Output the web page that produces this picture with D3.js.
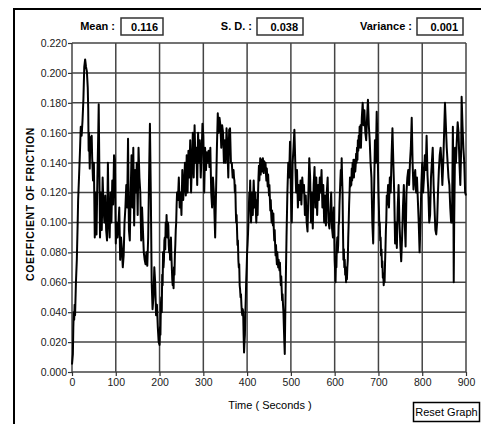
<!DOCTYPE html>
<html lang="en">
<head>
    <meta charset="UTF-8">
    <title>Coefficient of Friction vs Time</title>
    <script src="https://d3js.org/d3.v7.min.js"></script>
    <style>
        body { margin: 0; background: #fff; }
        svg { display: block; }
        text { font-family: "Liberation Sans", Arial, sans-serif; }
    </style>
</head>
<body>
    <div id="chart"></div>

    <script>
        // readings: time (s) and coefficient of friction, one line per stretch of the run
        const time = [
            0,2,3,4,5,6,7,9,11,13,14,16,18,20,22,24,26,28,30,32,34,36,37,38,39,40.5,42,44,45,46,48,50,52,54,56,58,60,61,62,64,66,68,70,72,74,76,78,80,82,84,86,88,90,92,94,96,98,100,102,104,106,108,
            110,112,114,116,118,120,122,124,126,128,130,132,134,136,138,140,142,144,146,148,150,152,154,156,158,160,162,164,166,168,170,172,174,176,178,180,182,184,186,188,190,192,194,196,198,
            200,201,202,203,204,205,206,207,208,209,210,211,212,213,214,215,216,217,218,219,220,221,222,223,224,225,226,227,228,229,230,231,232,233,234,235,236,237,238,239,240,
            242,244,246,248,250,252,254,256,258,260,262,264,266,268,270,272,274,276,278,280,282,284,286,288,290,292,294,296,298,300,302,304,306,308,310,312,314,316,318,320,322,324,327,329,331,333,335,337,339,341,343,345,347,349,351,353,355,357,359,361,363,365,367,369,
            370,371,372,373,374,375,376,377,378,379,380,381,382,383,384,385,386,387,388,389,390,391,392,393,394,395,396,397,398,399,400,401,402,403,404,405,406,407,408,409,410,411,412,413,414,415,416,417,418,419,420,421,422,423,424,
            425,426,427,428,429,430,431,432,433,434,435,436,437,438,439,440,441,442,443,444,445,446,447,448,449,450,451,452,453,454,455,456,457,458,459,460,461,462,463,464,465,466,467,468,469,470,471,472,473,474,475,476,477,478,479,480,481,482,483,484,485,486,
            487,488,490,492,494,496,498,500,502,504,506,508,510,512,514,516,518,520,522,524,526,528,530,532,534,536,538,540,542,544,546,548,550,552,554,556,558,560,562,564,566,568,570,572,574,576,578,580,582,584,586,588,590,592,594,596,598,
            600,601,602,603,604,605,606,607,608,609,610,611,612,613,614,615,616,617,618,619,620,621,622,623,624,625,626,627,628,629,630,631,632,633,634,635,636,637,638,639,640,641,642,643,644,645,646,647,648,649,650,651,652,653,654,655,656,657,658,659,660,
            662,664,666,668,670,672,674,676,678,680,682,684,686,688,690,692,694,696,698,
            700,701,702,703,704,705,706,707,708,709,710,711,712,713,714,715,716,717,718,719,720,
            722,724,726,728,730,732,734,736,738,740,742,744,746,748,750,752,754,756,758,760,762,764,766,768,770,772,774,776,778,780,782,784,786,788,790,792,794,796,798,
            800,802,804,806,808,810,812,814,816,818,820,822,824,826,828,830,832,834,836,838,840,842,844,846,848,850,852,854,856,858,860,862,864,866,868,870,871,872,873,875,877,879,881,883,885,887,889,890,892,894,896,898,900
        ];
        const cof = [
            0.005,0.012,0.03,0.04,0.035,0.045,0.038,0.06,0.075,0.1,0.115,0.13,0.146,0.164,0.158,0.168,0.182,0.204,0.209,0.204,0.201,0.19,0.176,0.148,0.16,0.136,0.157,0.15,0.158,0.144,0.128,0.14,0.09,0.12,0.092,0.13,0.16,0.179,0.15,0.09,0.12,0.095,0.13,0.11,0.1,0.118,0.095,0.088,0.14,0.1,0.09,0.12,0.1,0.128,0.112,0.145,0.142,0.086,0.1,0.09,0.098,0.11,
            0.075,0.09,0.082,0.07,0.078,0.1,0.11,0.125,0.11,0.156,0.095,0.088,0.12,0.145,0.11,0.15,0.098,0.135,0.12,0.14,0.105,0.15,0.13,0.12,0.088,0.11,0.095,0.08,0.075,0.072,0.08,0.071,0.09,0.13,0.166,0.12,0.06,0.042,0.05,0.07,0.06,0.038,0.045,0.03,0.02,
            0.018,0.03,0.025,0.045,0.05,0.04,0.065,0.058,0.08,0.07,0.075,0.088,0.09,0.082,0.1,0.092,0.105,0.095,0.09,0.1,0.098,0.085,0.08,0.088,0.075,0.082,0.09,0.078,0.07,0.062,0.058,0.065,0.056,0.07,0.065,0.078,0.085,0.095,0.1,0.112,0.12,
            0.115,0.13,0.11,0.12,0.105,0.135,0.115,0.125,0.14,0.118,0.145,0.12,0.148,0.13,0.155,0.12,0.14,0.16,0.13,0.165,0.14,0.15,0.125,0.16,0.14,0.155,0.13,0.145,0.166,0.158,0.12,0.15,0.135,0.147,0.14,0.148,0.137,0.15,0.12,0.11,0.13,0.12,0.09,0.12,0.15,0.173,0.16,0.17,0.165,0.15,0.165,0.16,0.14,0.155,0.14,0.163,0.15,0.13,0.162,0.163,0.14,0.14,0.13,0.135,
            0.13,0.128,0.12,0.125,0.11,0.1,0.105,0.095,0.085,0.088,0.075,0.07,0.072,0.058,0.055,0.05,0.052,0.045,0.04,0.038,0.042,0.04,0.025,0.013,0.02,0.025,0.04,0.05,0.062,0.07,0.08,0.085,0.092,0.1,0.11,0.12,0.115,0.128,0.112,0.1,0.108,0.12,0.11,0.105,0.118,0.128,0.12,0.11,0.115,0.12,0.108,0.1,0.11,0.115,0.105,
            0.12,0.13,0.138,0.128,0.136,0.143,0.132,0.14,0.142,0.134,0.136,0.143,0.138,0.133,0.141,0.137,0.135,0.14,0.133,0.128,0.136,0.13,0.124,0.132,0.125,0.118,0.125,0.116,0.108,0.115,0.106,0.1,0.108,0.102,0.098,0.106,0.095,0.088,0.095,0.085,0.078,0.085,0.077,0.072,0.08,0.074,0.07,0.075,0.07,0.068,0.073,0.064,0.058,0.064,0.055,0.048,0.052,0.045,0.04,0.03,0.02,0.012,
            0.035,0.055,0.09,0.12,0.14,0.13,0.154,0.12,0.1,0.14,0.15,0.162,0.14,0.12,0.135,0.11,0.125,0.115,0.128,0.112,0.13,0.12,0.125,0.105,0.118,0.1,0.094,0.12,0.143,0.13,0.1,0.12,0.096,0.125,0.137,0.11,0.13,0.105,0.125,0.115,0.13,0.12,0.135,0.11,0.125,0.1,0.118,0.098,0.12,0.13,0.1,0.096,0.105,0.12,0.096,0.09,0.11,
            0.075,0.068,0.06,0.075,0.07,0.085,0.09,0.08,0.085,0.098,0.1,0.112,0.12,0.128,0.135,0.125,0.143,0.13,0.12,0.095,0.075,0.082,0.07,0.075,0.065,0.07,0.06,0.068,0.062,0.07,0.075,0.09,0.1,0.112,0.12,0.13,0.124,0.13,0.125,0.136,0.128,0.14,0.132,0.142,0.13,0.14,0.142,0.134,0.138,0.146,0.14,0.15,0.142,0.155,0.148,0.158,0.15,0.164,0.155,0.165,0.15,
            0.17,0.18,0.165,0.175,0.16,0.155,0.17,0.182,0.165,0.155,0.14,0.13,0.1,0.086,0.12,0.155,0.14,0.174,0.15,
            0.12,0.11,0.098,0.1,0.088,0.09,0.078,0.082,0.07,0.074,0.063,0.066,0.058,0.064,0.06,0.072,0.082,0.095,0.102,0.118,0.112,
            0.125,0.11,0.13,0.12,0.145,0.163,0.14,0.12,0.086,0.1,0.083,0.11,0.125,0.1,0.085,0.074,0.09,0.11,0.125,0.1,0.084,0.12,0.13,0.135,0.125,0.14,0.15,0.17,0.14,0.122,0.13,0.135,0.12,0.13,0.115,0.1,0.08,0.1,0.125,
            0.14,0.12,0.13,0.145,0.135,0.158,0.132,0.12,0.1,0.105,0.13,0.14,0.15,0.125,0.11,0.095,0.092,0.1,0.12,0.135,0.145,0.15,0.14,0.125,0.14,0.16,0.18,0.165,0.15,0.14,0.13,0.125,0.11,0.1,0.1,0.164,0.13,0.06,0.1,0.15,0.14,0.155,0.167,0.16,0.14,0.125,0.15,0.184,0.165,0.15,0.14,0.12,0.118
        ];

        const yTicks = [0, 0.02, 0.04, 0.06, 0.08, 0.1, 0.12, 0.14, 0.16, 0.18, 0.2, 0.22];
        const xTicks = [0, 100, 200, 300, 400, 500, 600, 700, 800, 900];
        const statLabels = ["Mean :", "S. D. :", "Variance :"];
        const statValues = ["0.116", "0.038", "0.001"];

        const W = 481, H = 424;
        const svg = d3.select("#chart").append("svg")
            .attr("width", W).attr("height", H);

        // outer panel frame (runs off the right and bottom)
        svg.append("rect")
            .attr("x", 14).attr("y", 9)
            .attr("width", 520).attr("height", 520)
            .attr("fill", "#fff").attr("stroke", "#000").attr("stroke-width", 2);

        // stats row
        const statPos = [
            { lx: 115, bx: 121, bw: 42 },
            { lx: 252, bx: 257, bw: 46 },
            { lx: 412, bx: 417, bw: 46 }
        ];
        statLabels.forEach((lab, i) => {
            const p = statPos[i];
            svg.append("text")
                .attr("x", p.lx).attr("y", 30)
                .attr("text-anchor", "end")
                .style("font-size", "11px").style("font-weight", "bold")
                .text(lab);
            svg.append("rect")
                .attr("x", p.bx).attr("y", 18)
                .attr("width", p.bw).attr("height", 17)
                .attr("fill", "#fff").attr("stroke", "#333").attr("stroke-width", 1.5);
            svg.append("text")
                .attr("x", p.bx + p.bw - 5).attr("y", 31)
                .attr("text-anchor", "end")
                .style("font-size", "11px").style("font-weight", "bold")
                .text(statValues[i]);
        });

        const x = d3.scaleLinear().domain([0, 900]).range([72, 466]);
        const y = d3.scaleLinear().domain([0, 0.22]).range([372, 43]);

        // grid
        const grid = svg.append("g");
        grid.selectAll(".hg").data(yTicks).enter().append("line")
            .attr("x1", x(0)).attr("x2", x(900))
            .attr("y1", d => y(d)).attr("y2", d => y(d))
            .attr("stroke", "#444").attr("stroke-width", 1.5);
        grid.selectAll(".vg").data(xTicks).enter().append("line")
            .attr("x1", d => x(d)).attr("x2", d => x(d))
            .attr("y1", y(0)).attr("y2", y(0.22))
            .attr("stroke", "#444").attr("stroke-width", 1.5);

        // axes
        const yAxis = svg.append("g")
            .attr("transform", `translate(${x(0)},0)`)
            .call(d3.axisLeft(y).tickValues(yTicks).tickFormat(d3.format(".3f")).tickSize(4).tickPadding(1));
        const xAxis = svg.append("g")
            .attr("transform", `translate(0,${y(0)})`)
            .call(d3.axisBottom(x).tickValues(xTicks).tickSize(4).tickPadding(3));
        [yAxis, xAxis].forEach(a => {
            a.select(".domain").remove();
            a.selectAll("line").attr("stroke", "#333").attr("stroke-width", 1.2);
            a.selectAll("text")
                .style("font-family", "'Liberation Sans', Arial, sans-serif")
                .style("font-size", "10.5px").attr("fill", "#1a1a1a");
        });

        // data line
        const line = d3.line().x((d, i) => x(time[i])).y(d => y(d));
        svg.append("path")
            .datum(cof)
            .attr("d", line)
            .attr("fill", "none").attr("stroke", "#000")
            .attr("stroke-width", 2).attr("stroke-linejoin", "round");

        // axis titles
        svg.append("text")
            .attr("transform", "translate(34,204) rotate(-90)")
            .attr("text-anchor", "middle")
            .style("font-size", "10.5px").style("font-weight", "bold")
            .style("letter-spacing", "0.6px")
            .text("COEFFICIENT OF FRICTION");
        svg.append("text")
            .attr("x", 270).attr("y", 409)
            .attr("text-anchor", "middle")
            .style("font-size", "11px")
            .text("Time ( Seconds )");

        // reset button
        svg.append("rect")
            .attr("x", 413.5).attr("y", 402.5)
            .attr("width", 66).attr("height", 19)
            .attr("fill", "#fff").attr("stroke", "#000").attr("stroke-width", 1.5);
        svg.append("text")
            .attr("x", 446.5).attr("y", 416)
            .attr("text-anchor", "middle")
            .style("font-size", "11px")
            .text("Reset Graph");
    </script>
</body>
</html>
